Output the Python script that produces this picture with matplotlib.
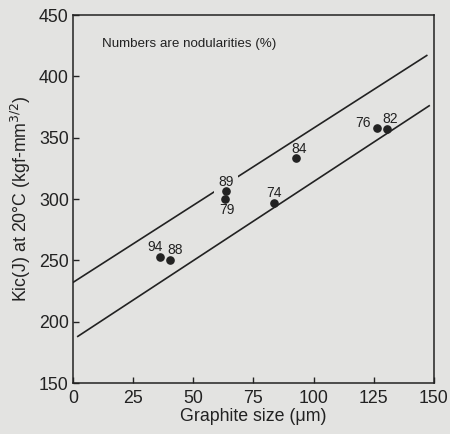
import matplotlib
matplotlib.use("Agg")
import matplotlib.pyplot as plt

plt.rcParams['font.family'] = ['Liberation Sans', 'DejaVu Sans']

# Data
graphite_size = [36, 40.3, 63.6, 63.3, 83.5, 92.7, 126.2, 130.6]
kic = [252.7, 250.3, 306.2, 300.3, 296.8, 333.3, 358.1, 356.8]
nodularity = ["94", "88", "89", "79", "74", "84", "76", "82"]

upper_line_x = [0, 147]
upper_line_y = [232, 417]
lower_line_x = [2, 148]
lower_line_y = [188, 376]

x_ticks = [0, 25, 50, 75, 100, 125, 150]
y_ticks = [150, 200, 250, 300, 350, 400, 450]

# label offsets (points)
offsets = [(-3.6, 7.2), (3.6, 7.0), (0, 6.9), (1, -8.2), (0, 7.2), (2.4, 6.5), (-9.6, 3.1), (1.9, 7.4)]

bg = '#e3e3e1'
ink = '#222222'

fig = plt.figure(figsize=(4.5, 4.34), dpi=100, facecolor=bg)
ax = fig.add_axes([0.1622, 0.1175, 0.8022, 0.8479], facecolor=bg)

ax.plot(upper_line_x, upper_line_y, color=ink, lw=1.2, zorder=2)
ax.plot(lower_line_x, lower_line_y, color=ink, lw=1.2, zorder=2)
ax.plot(graphite_size, kic, 'o', color=ink, ms=5.2, zorder=5)

for x, y, t, (dx, dy) in zip(graphite_size, kic, nodularity, offsets):
    bb = None
    if t == "89":
        bb = dict(boxstyle='square,pad=0.3', fc=bg, ec='none')
    ax.annotate(t, (x, y), xytext=(dx, dy), textcoords='offset points',
                ha='center', va='center', fontsize=10, color=ink,
                bbox=bb, zorder=4)

ax.text(12, 426, "Numbers are nodularities (%)", fontsize=9.6, color=ink,
        ha='left', va='center')

ax.set_xlim(0, 150)
ax.set_ylim(150, 450)
ax.set_xticks(x_ticks)
ax.set_yticks(y_ticks)
ax.tick_params(direction='in', length=4, width=1, colors=ink, labelsize=12.8,
               pad=3)
ax.tick_params(axis='x', pad=5)
for s in ax.spines.values():
    s.set_color(ink)
    s.set_linewidth(1.1)

ax.set_xlabel("Graphite size (μm)", fontsize=12.8, color=ink, labelpad=1)
ax.set_ylabel(r"Kic(J) at 20°C (kgf-mm$^{3/2}$)", fontsize=12.8, color=ink,
              labelpad=4)

fig.savefig("out.png", dpi=100, facecolor=bg)
